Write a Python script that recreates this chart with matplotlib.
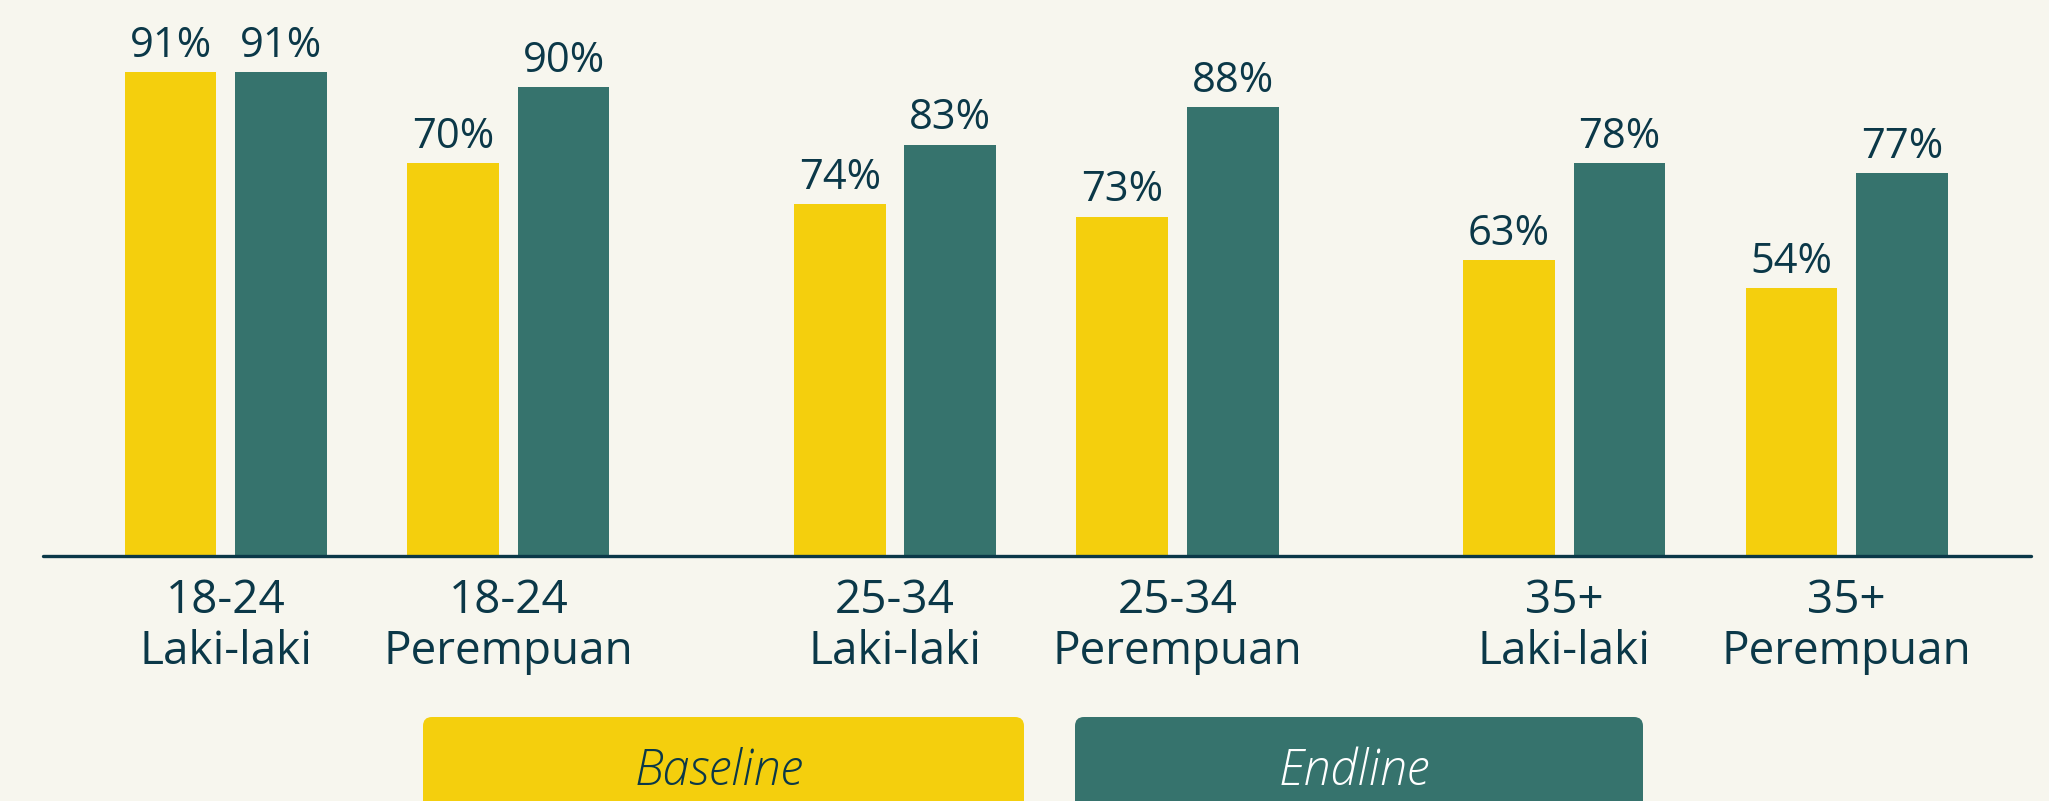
import matplotlib
matplotlib.use("Agg")
import matplotlib.pyplot as plt
from matplotlib.patches import FancyBboxPatch

plt.rcParams['font.family'] = ['Open Sans', 'DejaVu Sans']

# Data
categories = ['18-24\nLaki-laki', '18-24\nPerempuan',
              '25-34\nLaki-laki', '25-34\nPerempuan',
              '35+\nLaki-laki', '35+\nPerempuan']
# bar heights as drawn (the drawn heights do not exactly follow the labels)
baseline_height = [91.0, 73.9, 66.2, 63.8, 55.6, 50.3]
endline_height = [91.0, 88.1, 77.3, 84.4, 73.9, 72.0]
baseline_labels = ['91%', '70%', '74%', '73%', '63%', '54%']
endline_labels = ['91%', '90%', '83%', '88%', '78%', '77%']
series_names = ['Baseline', 'Endline']

# Colours
bg = '#F7F6EE'
yellow = '#F4CF0D'
green = '#36736D'
navy = '#0B3848'

W, H = 2049, 801
fig = plt.figure(figsize=(W / 100, H / 100), dpi=100, facecolor=bg)

# main bar axes, placed in pixel terms
ax = fig.add_axes([43 / W, 245 / H, (2031 - 43) / W, 556 / H])
ax.set_facecolor(bg)

group_gap = 0.369
x = [i + group_gap * (i // 2) for i in range(len(categories))]
width = 0.325
off = 0.1956

bars_b = ax.bar([p - off for p in x], baseline_height, width, color=yellow, zorder=2)
bars_e = ax.bar([p + off for p in x], endline_height, width, color=green, zorder=2)

for bars, labels in [(bars_b, baseline_labels), (bars_e, endline_labels)]:
    for b, lab in zip(bars, labels):
        ax.annotate(lab, (b.get_x() + b.get_width() / 2, b.get_height()),
                    xytext=(0, 11), textcoords='offset points',
                    ha='center', va='baseline', fontsize=30, color=navy)

ax.set_xlim(-0.647, 6.39)
ax.set_ylim(0, 104.5)
for s in ax.spines.values():
    s.set_visible(False)
ax.axhline(0, color=navy, lw=2.4, solid_capstyle='round', zorder=3, clip_on=False)
ax.set_yticks([])
ax.set_xticks(x)
ax.set_xticklabels(categories, fontsize=33, color=navy, linespacing=1.15)
ax.tick_params(axis='x', length=0, pad=16)

# legend boxes at the bottom
lax = fig.add_axes([0, 0, 1, 1], facecolor='none')
lax.set_xlim(0, W)
lax.set_ylim(H, 0)
lax.axis('off')
legend_boxes = [(423, 1024, yellow, navy), (1075, 1643, green, 'white')]
for name, (x0, x1, fc, tc) in zip(series_names, legend_boxes):
    lax.add_patch(FancyBboxPatch((x0, 717), x1 - x0, 130,
                                 boxstyle='round,pad=0,rounding_size=9',
                                 fc=fc, ec='none'))
    lax.text((x0 + x1) / 2 - 5, 785, name, ha='center', va='baseline',
             fontsize=35, style='italic', fontweight='light', color=tc)

fig.savefig('out.png', dpi=100, facecolor=bg)
